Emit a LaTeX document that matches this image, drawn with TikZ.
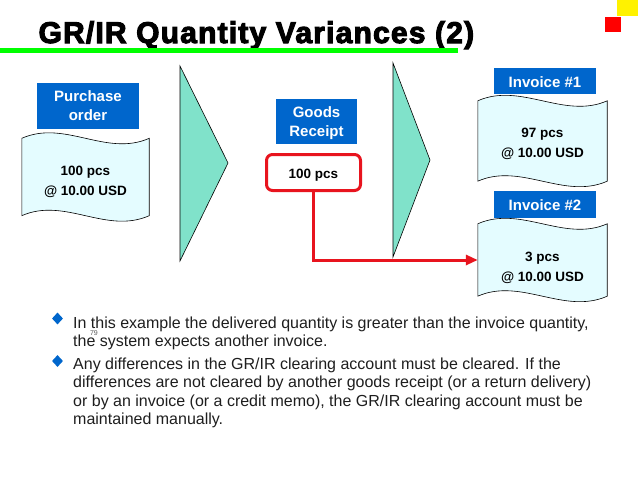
\documentclass[tikz,border=0pt]{standalone}
\usepackage{fontspec}
\setmainfont{Liberation Sans}
\newfontfamily\titlefont[LetterSpace=4, BoldFeatures={FakeBold=3.5, LetterSpace=4}]{Liberation Sans}
\usetikzlibrary{shapes.geometric, arrows.meta, backgrounds}

\definecolor{headblue}{RGB}{0,102,204}
\definecolor{docfill}{RGB}{228,252,255}
\definecolor{trifill}{RGB}{128,226,202}
\definecolor{grred}{RGB}{232,20,30}
\definecolor{bodytext}{RGB}{30,30,30}

\begin{document}
\begin{tikzpicture}[
  x=1pt, y=-1pt,
  every node/.style={font=\fontsize{14}{17}\selectfont},
  head/.style={rectangle, fill=headblue, text=white, align=center, inner sep=0pt,
               minimum width=#1, font=\fontsize{15}{19}\selectfont\bfseries},
  doc/.style={rectangle, inner sep=0pt, minimum width=#1, align=center,
              font=\fontsize{13.5}{20}\selectfont\bfseries},
  docline/.style={draw=black, fill=docfill, line width=0.6pt},
  grbox/.style={rectangle, rounded corners=6pt, draw=grred, line width=3pt, fill=white,
                minimum width=94pt, minimum height=36pt, text height=15.5pt,
                font=\fontsize{13.5}{16}\selectfont\bfseries},
  tri/.style={draw=black, fill=trifill, line width=0.6pt},
  flow/.style={-{Triangle[length=12pt, width=10pt]}, draw=grred, line width=3pt},
  bul/.style={diamond, fill=headblue, inner sep=0pt, minimum width=11pt, minimum height=12pt},
  item/.style={anchor=north west, align=left, inner sep=0pt, text=bodytext,
               font=\fontsize{16}{18.6}\selectfont},
]
\useasboundingbox (0,0) rectangle (638,479);

% Title bar
\node[anchor=base west, font=\titlefont\fontsize{30}{34}\selectfont\bfseries] (title) at (35,43)
  {GR/IR Quantity Variances (2)};
\draw[green, line width=4.5pt] (0,50.5) -- (458,50.5);
\fill[yellow] (617,0) rectangle (638,16);
\fill[red] (605,17) rectangle (621,32);

% Documents
\node[head=102pt, minimum height=46pt] (pohead) at (88,105.5) {Purchase\\order};
\node[doc=127pt, minimum height=77pt, text height=39pt] (podoc) at (85.5,177) {100 pcs\\@ 10.00 USD};

\node[head=81pt, minimum height=45pt, text height=33.5pt] (grhead) at (316.5,121.5) {Goods\\Receipt};
\node[grbox] (gr) at (313.5,172.5) {100 pcs};

\node[head=102pt, minimum height=26pt, text height=13pt] (invhead1) at (545,81) {Invoice \#1};
\node[doc=129pt, minimum height=80pt, text height=35.5pt] (inv1) at (542.5,141) {97 pcs\\@ 10.00 USD};

\node[head=102pt, minimum height=27pt, text height=12.5pt] (invhead2) at (545,204.5) {Invoice \#2};
\node[doc=129pt, minimum height=72pt, text height=45pt] (inv2) at (542.5,260) {3 pcs\\@ 10.00 USD};

% wavy paper outline behind the texts
\begin{scope}[on background layer]
\foreach \n in {podoc,inv1,inv2}
  \draw[docline] (\n.north west) .. controls +(43,-19) and +(-43,19) .. (\n.north east)
    -- (\n.south east) .. controls +(-43,19) and +(43,-19) .. (\n.south west) -- cycle;
\end{scope}

% Process steps
\draw[tri] (180,66) -- (228,163) -- (180,261) -- cycle;
\draw[tri] (393,63) -- (430,160) -- (393,257) -- cycle;

% GR quantity still open
\draw[flow] (gr.south) |- (inv2.west);

% Notes
\node[bul] (bul1) at (57.5,318.5) {};
\node[item] (note1) at (73,316.3)
  {In this example the delivered quantity is greater than the invoice quantity,\\
   the system expects another invoice.};
\node[bul] (bul2) at (57.5,361) {};
\node[item] (note2) at (73,357.3)
  {Any differences in the GR/IR clearing account must be cleared. If the\\
   differences are not cleared by another goods receipt (or a return delivery)\\
   or by an invoice (or a credit memo), the GR/IR clearing account must be\\
   maintained manually.};
\node[text=gray!70!black, font=\fontsize{7}{7}\selectfont] (pageno) at (94,333) {79};

\end{tikzpicture}
\end{document}
